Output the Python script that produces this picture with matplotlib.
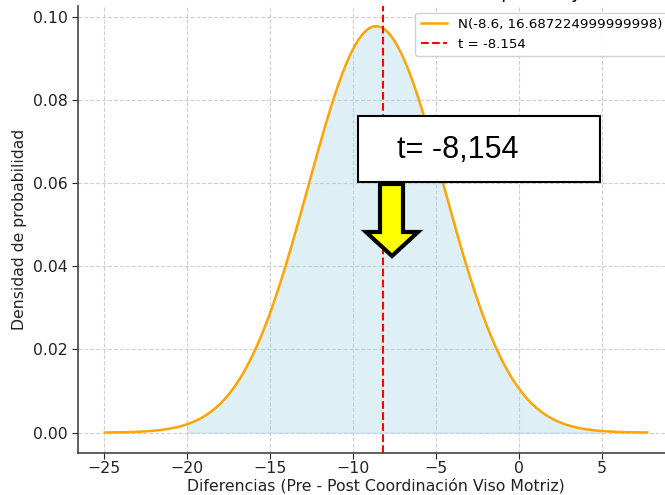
import numpy as np
import matplotlib
matplotlib.use("Agg")
import matplotlib.pyplot as plt
from matplotlib.patches import Rectangle, Polygon

# Data: normal distribution of differences and t statistic
mu = -8.6
var = 16.687224999999998
t_value = -8.154
fill_lo, fill_hi = -20, 5
box_text = "t= -8,154"
title = "Distribución Normal de las Diferencias en la prueba y valor t (t = -8.154)"
xlabel = "Diferencias (Pre - Post Coordinación Viso Motriz)"
ylabel = "Densidad de probabilidad"

sigma = np.sqrt(var)
x = np.linspace(mu - 4 * sigma, mu + 4 * sigma, 400)
y = np.exp(-0.5 * ((x - mu) / sigma) ** 2) / (sigma * np.sqrt(2 * np.pi))

W, H = 665, 495
fig = plt.figure(figsize=(W / 100, H / 100), dpi=100)
ax = fig.add_axes([0.117, 0.085, 0.897, 0.903])

ax.plot(x, y, color="orange", lw=1.8, label="N({}, {})".format(mu, var))
mask = (x >= fill_lo) & (x <= fill_hi)
ax.fill_between(x, y, where=mask, color="lightblue", alpha=0.4)
ax.axvline(t_value, color="red", ls="--", lw=1.5, label="t = {}".format(t_value))

ax.grid(True, ls="--", color="#d0d0d0", lw=0.8)
ax.set_axisbelow(True)
for s in ["top", "right"]:
    ax.spines[s].set_visible(False)
for s in ["left", "bottom"]:
    ax.spines[s].set_color("#444444")
    ax.spines[s].set_linewidth(1.2)
ax.tick_params(labelsize=11.3, colors="#222222", length=4)
ax.tick_params(axis="x", pad=2)
ax.set_xticks([-25, -20, -15, -10, -5, 0, 5])
ax.set_yticks([0.0, 0.02, 0.04, 0.06, 0.08, 0.10])
ax.set_xlabel(xlabel, fontsize=11.3, color="#222222", labelpad=1)
ax.set_ylabel(ylabel, fontsize=11.3, color="#222222")
ax.set_title(title, fontsize=13, pad=6, x=0.587)
ax.legend(loc="upper right", fontsize=9.6, framealpha=0.9)

# Overlay: text box and yellow arrow (image pixel positions)
def fp(px, py):
    return (px / W, 1 - py / H)

x0, y0 = fp(358, 182)
x1, y1 = fp(600, 116)
fig.patches.append(Rectangle((x0, y0), x1 - x0, y1 - y0, transform=fig.transFigure,
                             facecolor="white", edgecolor="black", lw=1.5, zorder=10))
tx, ty = fp(397, 158)
fig.text(tx, ty, box_text, fontsize=22, family="Liberation Sans", va="baseline",
         ha="left", zorder=11)

arrow_px = [(380, 184), (403, 184), (403, 232), (418, 232), (392, 256), (366, 232), (380, 232)]
fig.patches.append(Polygon([fp(a, b) for a, b in arrow_px], closed=True,
                           transform=fig.transFigure, facecolor="yellow",
                           edgecolor="black", lw=3, joinstyle="miter", zorder=10))

fig.savefig("out.png", dpi=100)
